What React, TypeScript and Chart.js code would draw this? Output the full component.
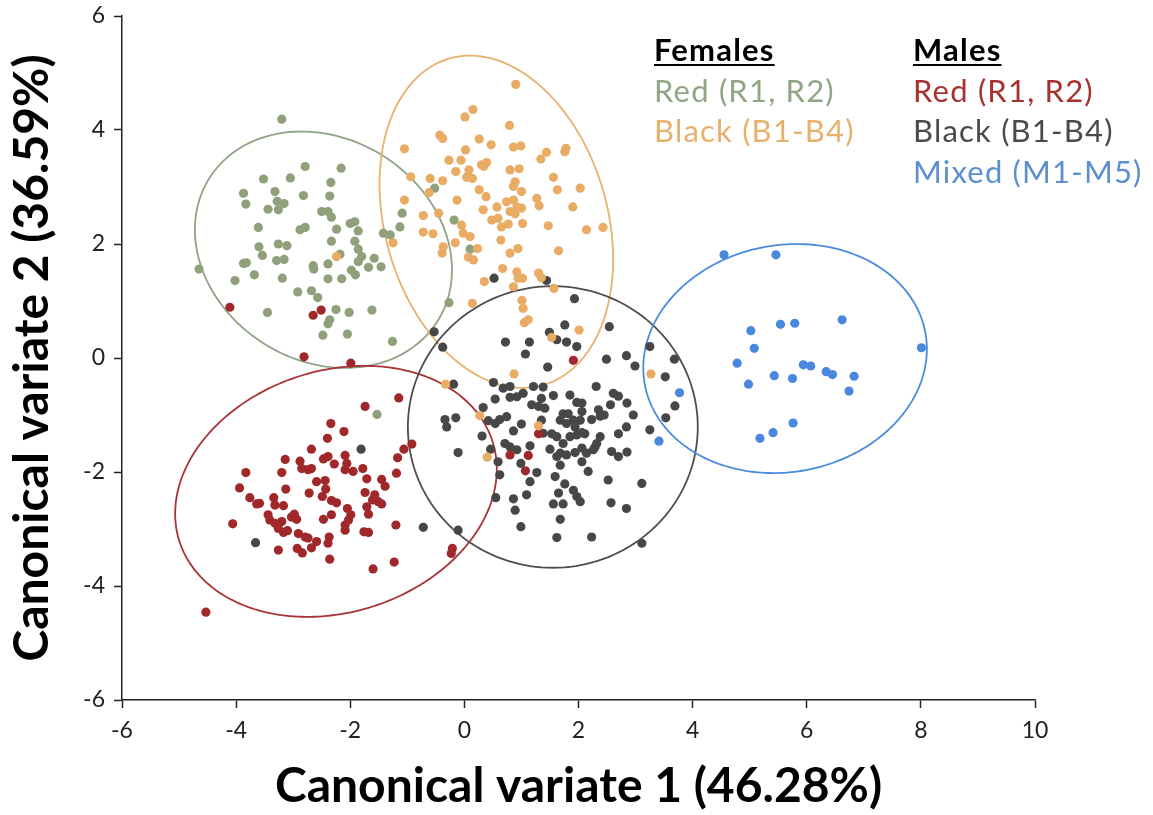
import React, { useEffect, useRef } from "react";
import { Chart, registerables } from "chart.js";

Chart.register(...registerables);

// ---- Data (canonical variate 1, canonical variate 2) ----
const femaleRed: [number, number][] = [
  [-3.20, 4.19], [-2.79, 3.36], [-2.16, 3.33], [-3.52, 3.14], [-3.05, 3.16], [-2.34, 3.08],
  [-3.87, 2.89], [-3.32, 2.92], [-2.82, 2.85], [-2.36, 2.84], [-3.83, 2.70], [-3.28, 2.75],
  [-3.16, 2.71], [-3.44, 2.61], [-3.26, 2.60], [-2.50, 2.57], [-2.39, 2.57], [-2.33, 2.47],
  [-3.61, 2.29], [-2.88, 2.25], [-2.79, 2.29], [-2.24, 2.26], [-2.00, 2.36], [-1.92, 2.39],
  [-1.86, 2.23], [-1.09, 2.54], [-1.13, 2.30], [-1.42, 2.19], [-1.30, 2.16], [-2.33, 2.05],
  [-1.92, 2.05], [-3.60, 1.95], [-3.54, 1.80], [-3.26, 2.00], [-3.11, 1.97], [-1.86, 1.91],
  [-1.80, 1.78], [-1.86, 1.69], [-2.18, 1.82], [-3.87, 1.66], [-3.82, 1.67], [-3.29, 1.71],
  [-3.16, 1.73], [-2.65, 1.62], [-2.64, 1.56], [-2.39, 1.65], [-1.58, 1.75], [-1.68, 1.59],
  [-1.46, 1.60], [-1.98, 1.54], [-1.91, 1.46], [-4.65, 1.56], [-4.02, 1.36], [-3.68, 1.46],
  [-3.19, 1.40], [-2.39, 1.39], [-2.15, 1.39], [-2.92, 1.16], [-2.68, 1.18], [-2.57, 1.06],
  [-2.25, 0.85], [-2.02, 0.80], [-1.62, 0.84], [-3.45, 0.80], [-2.36, 0.67], [-2.39, 0.60],
  [-2.48, 0.40], [-2.05, 0.42], [-1.26, 0.29], [-0.27, 0.97], [-0.52, 2.98], [-0.18, 2.42],
  [0.10, 1.91], [-1.53, -0.99],
];

const femaleBlack: [number, number][] = [
  [0.90, 4.80], [0.01, 4.23], [0.15, 4.36], [0.79, 4.08], [-0.43, 3.91], [-0.38, 3.85],
  [0.26, 3.84], [0.47, 3.74], [0.86, 3.70], [0.99, 3.72], [-1.05, 3.67], [0.02, 3.65],
  [1.44, 3.61], [1.34, 3.49], [1.78, 3.68], [1.76, 3.62], [-0.27, 3.47], [-0.06, 3.47],
  [0.30, 3.39], [0.39, 3.43], [0.34, 3.36], [0.80, 3.30], [0.96, 3.32], [-0.15, 3.27],
  [0.08, 3.30], [0.04, 3.17], [0.14, 3.15], [-0.94, 3.18], [-0.60, 3.15], [-0.38, 3.11],
  [0.89, 3.09], [0.86, 3.01], [1.56, 3.17], [2.03, 2.98], [1.63, 2.95], [0.26, 2.95],
  [0.38, 2.83], [1.00, 2.92], [-0.62, 2.90], [-1.05, 2.77], [-0.13, 2.77], [1.27, 2.80],
  [1.31, 2.67], [1.90, 2.65], [0.74, 2.74], [0.86, 2.77], [0.92, 2.65], [0.80, 2.57],
  [1.00, 2.63], [0.57, 2.65], [0.89, 2.53], [0.33, 2.60], [0.48, 2.42], [0.59, 2.45],
  [0.65, 2.30], [0.77, 2.35], [1.02, 2.36], [1.47, 2.32], [2.14, 2.25], [2.43, 2.29],
  [-0.72, 2.50], [-0.45, 2.54], [-0.72, 2.21], [-0.55, 2.18], [-1.25, 2.02], [-0.05, 2.33],
  [-0.02, 2.19], [0.10, 2.13], [-0.16, 2.02], [-0.37, 1.95], [-0.39, 1.84], [0.23, 1.92],
  [0.64, 2.07], [0.80, 1.84], [0.94, 1.92], [1.65, 1.88], [0.07, 1.77], [0.16, 1.72],
  [0.67, 1.57], [0.92, 1.51], [0.94, 1.40], [1.02, 1.40], [0.86, 1.25], [1.30, 1.49],
  [1.35, 1.41], [0.35, 1.34], [1.57, 1.22], [0.14, 0.96], [1.01, 1.01], [1.03, 0.87],
  [1.05, 0.62], [1.12, 0.67], [2.01, 0.49], [1.53, 0.36], [-2.24, 1.78], [0.87, -0.28],
  [-0.33, -0.46], [0.27, -1.01], [1.30, -1.19], [0.40, -1.74], [3.27, -0.28],
];

const maleRed: [number, number][] = [
  [-1.15, -0.70], [-1.74, -0.85], [-2.34, -1.15], [-2.11, -1.29], [-2.40, -1.41], [-0.92, -1.51],
  [-1.06, -1.60], [-1.17, -1.75], [-2.68, -1.60], [-3.14, -1.78], [-2.88, -1.81], [-2.85, -1.94],
  [-2.74, -1.96], [-2.68, -1.94], [-2.47, -1.77], [-2.39, -1.73], [-2.28, -1.86], [-2.09, -1.71],
  [-2.06, -1.85], [-2.09, -1.96], [-1.95, -1.99], [-1.78, -1.94], [-3.83, -2.01], [-3.20, -2.01],
  [-1.19, -2.02], [-1.71, -2.12], [-1.45, -2.13], [-1.39, -2.25], [-2.59, -2.17], [-2.44, -2.15],
  [-3.94, -2.28], [-3.13, -2.30], [-2.43, -2.30], [-2.72, -2.37], [-2.49, -2.43], [-1.74, -2.36],
  [-1.57, -2.40], [-1.51, -2.52], [-1.61, -2.49], [-1.45, -2.56], [-3.76, -2.45], [-3.64, -2.56],
  [-3.59, -2.55], [-3.34, -2.45], [-3.32, -2.58], [-3.17, -2.59], [-2.33, -2.50], [-2.24, -2.54],
  [-1.71, -2.61], [-1.68, -2.74], [-2.05, -2.64], [-1.99, -2.75], [-2.03, -2.84], [-2.09, -2.93],
  [-2.09, -3.02], [-2.33, -2.75], [-2.47, -2.83], [-3.44, -2.75], [-3.41, -2.84], [-3.32, -2.90],
  [-2.98, -2.74], [-2.94, -2.83], [-3.03, -2.79], [-3.20, -2.87], [-3.26, -2.99], [-3.17, -3.06],
  [-3.10, -3.03], [-2.91, -3.08], [-2.79, -3.14], [-2.74, -3.16], [-2.59, -3.22], [-2.68, -3.33],
  [-2.93, -3.34], [-2.84, -3.42], [-4.06, -2.91], [-3.26, -3.37], [-2.37, -3.14], [-2.39, -3.25],
  [-1.76, -3.05], [-1.68, -3.06], [-1.20, -2.93], [-2.36, -3.53], [-1.60, -3.70], [-1.23, -3.58],
  [-0.21, -3.34], [-0.23, -3.43], [-4.53, -4.46], [1.91, -0.04], [1.30, -1.33], [0.80, -1.70],
  [1.12, -1.71], [1.07, -1.98], [-4.11, 0.89], [-2.65, 0.75], [-2.51, 0.84], [-2.81, 0.02],
  [-1.99, -0.09],
];

const maleBlack: [number, number][] = [
  [1.93, 1.04], [1.76, 0.58], [2.54, 0.55], [1.49, 0.45], [1.62, 0.32], [1.79, 0.28],
  [1.97, 0.20], [0.72, 0.28], [1.14, 0.28], [1.07, 0.07], [-0.53, 0.46], [-0.38, 0.19],
  [2.49, -0.02], [2.84, 0.04], [2.99, -0.14], [1.46, -0.16], [3.25, 0.20], [3.68, -0.02],
  [3.52, -0.33], [3.69, -0.84], [3.53, -1.05], [3.25, -1.26], [-0.19, -0.46], [0.51, -0.43],
  [0.68, -0.53], [0.80, -0.50], [1.21, -0.50], [1.38, -0.51], [2.31, -0.50], [2.61, -0.62],
  [2.70, -0.67], [0.54, -0.72], [0.80, -0.69], [0.92, -0.68], [1.03, -0.62], [1.35, -0.71],
  [1.56, -0.66], [1.85, -0.65], [1.97, -0.78], [2.06, -0.79], [2.56, -0.82], [2.85, -0.79],
  [0.33, -0.87], [1.18, -0.82], [1.30, -0.85], [1.41, -0.88], [2.06, -0.94], [2.03, -1.09],
  [2.35, -0.91], [2.38, -1.02], [2.45, -1.00], [2.96, -1.00], [-0.34, -1.08], [-0.31, -1.21],
  [-0.15, -1.05], [0.42, -1.10], [0.54, -1.15], [0.62, -1.08], [0.74, -1.03], [1.00, -1.16],
  [0.86, -1.28], [1.35, -1.09], [1.73, -0.98], [1.82, -0.98], [1.68, -1.09], [1.79, -1.15],
  [1.91, -1.09], [1.94, -1.21], [2.23, -1.08], [2.84, -1.21], [1.38, -1.32], [1.53, -1.33],
  [1.62, -1.38], [1.73, -1.50], [1.85, -1.38], [1.97, -1.35], [2.06, -1.31], [2.11, -1.33],
  [2.38, -1.38], [2.32, -1.50], [2.29, -1.56], [2.70, -1.33], [0.31, -1.37], [0.71, -1.50],
  [0.80, -1.56], [0.92, -1.61], [1.15, -1.54], [1.50, -1.60], [1.68, -1.67], [1.62, -1.73],
  [1.79, -1.70], [1.94, -1.66], [2.06, -1.58], [2.14, -1.67], [2.26, -1.61], [2.58, -1.64],
  [2.70, -1.73], [2.85, -1.65], [-0.11, -1.66], [0.46, -1.60], [0.59, -1.82], [0.99, -1.85],
  [1.68, -1.88], [2.06, -1.82], [1.27, -2.01], [0.62, -2.05], [1.15, -2.17], [1.59, -2.08],
  [2.17, -1.99], [2.52, -2.14], [3.11, -2.20], [1.76, -2.21], [1.91, -2.32], [1.65, -2.37],
  [1.97, -2.43], [2.03, -2.52], [1.09, -2.40], [0.55, -2.45], [0.86, -2.47], [0.89, -2.67],
  [1.56, -2.56], [1.73, -2.56], [2.57, -2.54], [2.84, -2.64], [1.68, -2.83], [-0.72, -2.97],
  [-0.11, -3.02], [0.99, -2.96], [1.62, -3.15], [2.23, -3.14], [3.11, -3.25], [0.52, 1.40],
  [1.44, 1.36], [-1.81, -1.60], [-3.66, -3.24],
];

const maleMixed: [number, number][] = [
  [4.55, 1.81], [5.46, 1.81], [5.02, 0.48], [5.54, 0.59], [5.79, 0.61], [6.62, 0.67],
  [8.01, 0.18], [5.08, 0.17], [4.78, -0.09], [5.94, -0.12], [6.07, -0.14], [6.34, -0.24],
  [6.45, -0.29], [6.83, -0.32], [5.43, -0.31], [5.75, -0.36], [4.98, -0.46], [6.74, -0.58],
  [3.77, -0.61], [5.76, -1.14], [5.41, -1.31], [5.18, -1.41], [3.41, -1.46],
];

// Confidence ellipses: [centerX, centerY, semiAxisA, semiAxisB, angleDeg]
const ellipseFemaleRed = [-2.47, 1.90, 2.36, 1.95, -32];
const ellipseFemaleBlack = [0.56, 2.39, 2.98, 1.95, -74];
const ellipseMaleRed = [-2.25, -2.34, 2.88, 2.12, 17.7];
const ellipseMaleBlack = [1.55, -1.21, 2.54, 2.47, 0];
const ellipseMaleMixed = [5.62, -0.01, 2.5, 1.99, 10.5];

const xTitle = "Canonical variate 1 (46.28%)";
const yTitle = "Canonical variate 2 (36.59%)";

const COLORS = {
  fRed: "#8FA07B",
  fBlack: "#E8AC64",
  mRed: "#A1282A",
  mBlack: "#474747",
  mMixed: "#4A88DE",
};

const FONT = "Lato, 'Noto Sans', sans-serif";

const ellipsePlugin = {
  id: "ellipses",
  beforeDatasetsDraw(chart: any) {
    const { ctx, scales } = chart;
    const xs = scales.x;
    const ys = scales.y;
    const list: [number[], string][] = [
      [ellipseFemaleRed, "#8FA385"],
      [ellipseFemaleBlack, "#E9B06E"],
      [ellipseMaleRed, "#A83236"],
      [ellipseMaleBlack, "#4D4D4D"],
      [ellipseMaleMixed, "#4A8BDF"],
    ];
    ctx.save();
    ctx.lineWidth = 1.8;
    for (const [e, col] of list) {
      const [cx, cy, a, b, deg] = e;
      const th = (deg * Math.PI) / 180;
      ctx.beginPath();
      for (let i = 0; i <= 240; i++) {
        const t = (i / 240) * Math.PI * 2;
        const dx = a * Math.cos(t);
        const dy = b * Math.sin(t);
        const x = cx + dx * Math.cos(th) - dy * Math.sin(th);
        const y = cy + dx * Math.sin(th) + dy * Math.cos(th);
        const px = xs.getPixelForValue(x);
        const py = ys.getPixelForValue(y);
        if (i === 0) ctx.moveTo(px, py);
        else ctx.lineTo(px, py);
      }
      ctx.closePath();
      ctx.strokeStyle = col;
      ctx.stroke();
    }
    ctx.restore();
  },
};

function toPts(arr: [number, number][]) {
  return arr.map(([x, y]) => ({ x, y }));
}

export default function App() {
  const ref = useRef<HTMLCanvasElement>(null);

  useEffect(() => {
    if (!ref.current) return;
    const ds = (label: string, data: [number, number][], color: string, order: number) => ({
      label,
      data: toPts(data),
      backgroundColor: color,
      borderColor: color,
      borderWidth: 0,
      pointRadius: 4.6,
      pointHoverRadius: 4.6,
      order,
    });
    const axisCommon = (title: string, size: number) => ({
      type: "linear" as const,
      ticks: {
        stepSize: 2,
        color: "#222",
        font: { family: FONT, size: 23 },
        padding: 9,
      },
      grid: {
        display: true,
        drawOnChartArea: false,
        drawTicks: true,
        tickLength: 8,
        tickWidth: 1.5,
        tickColor: "#222",
      },
      border: { display: true, color: "#222", width: 1.5 },
      title: {
        display: true,
        text: title,
        color: "#000",
        font: { family: FONT, size, weight: "bold" as const },
      },
    });
    const xAxis: any = axisCommon(xTitle, 48);
    xAxis.min = -6;
    xAxis.max = 10;
    xAxis.ticks.padding = 9;
    xAxis.title.padding = { top: 0, bottom: 0 };
    xAxis.afterFit = (s: any) => {
      s.height = 115;
      s.paddingLeft = 0;
      s.paddingRight = 0;
    };
    const yAxis: any = axisCommon(yTitle, 48);
    yAxis.min = -6;
    yAxis.max = 6;
    yAxis.ticks.padding = 9;
    yAxis.title.padding = { top: 4, bottom: 0 };
    yAxis.afterFit = (s: any) => {
      s.width = 122;
      s.paddingTop = 0;
      s.paddingBottom = 0;
    };

    const chart = new Chart(ref.current, {
      type: "scatter",
      data: {
        datasets: [
          ds("Females Red (R1, R2)", femaleRed, COLORS.fRed, 4),
          ds("Females Black (B1-B4)", femaleBlack, COLORS.fBlack, 2),
          ds("Males Red (R1, R2)", maleRed, COLORS.mRed, 3),
          ds("Males Black (B1-B4)", maleBlack, COLORS.mBlack, 5),
          ds("Males Mixed (M1-M5)", maleMixed, COLORS.mMixed, 1),
        ],
      },
      options: {
        responsive: false,
        animation: false,
        layout: { padding: { top: 16, right: 118, left: 0, bottom: 0 } },
        plugins: { legend: { display: false }, tooltip: { enabled: false } },
        scales: { x: xAxis, y: yAxis },
      },
      plugins: [ellipsePlugin],
    });
    return () => chart.destroy();
  }, []);

  const legendLine = (text: string, color: string, left: number, top: number, header = false) => (
    <div
      style={{
        position: "absolute",
        left,
        top,
        fontFamily: FONT,
        fontSize: 31,
        letterSpacing: "1.2px",
        lineHeight: "40px",
        color,
        whiteSpace: "nowrap",
        fontWeight: header ? 700 : 400,
        textDecoration: header ? "underline" : "none",
        textDecorationThickness: header ? "2px" : undefined,
        textUnderlineOffset: header ? "3px" : undefined,
      }}
    >
      {text}
    </div>
  );

  return (
    <div style={{ position: "fixed", left: 0, top: 0, width: 1153, height: 815, background: "#fff" }}>
      <canvas ref={ref} width={1153} height={815} style={{ display: "block" }} />
      {legendLine("Females", "#000", 654, 29, true)}
      {legendLine("Red (R1, R2)", "#8FA583", 654, 70)}
      {legendLine("Black (B1-B4)", "#E9B06C", 654, 110)}
      {legendLine("Males", "#000", 913, 29, true)}
      {legendLine("Red (R1, R2)", "#A8302F", 913, 70)}
      {legendLine("Black (B1-B4)", "#4A4A4A", 913, 110)}
      {legendLine("Mixed (M1-M5)", "#5B8FD2", 913, 151)}
    </div>
  );
}
